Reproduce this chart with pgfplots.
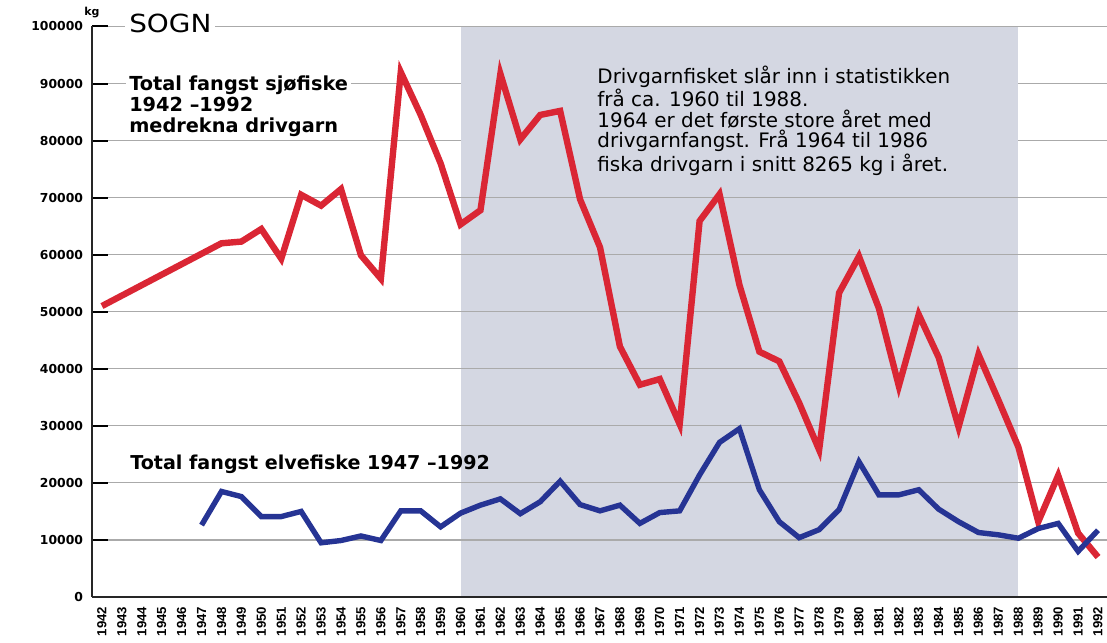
\documentclass[border=0pt]{standalone}
\usepackage{pgfplots}
\pgfplotsset{compat=1.18}
\usepackage{fontspec}
\setmainfont{DejaVu Sans}
\newfontfamily\lib{Liberation Sans}
\definecolor{cred}{RGB}{218,38,52}
\definecolor{cblue}{RGB}{38,52,148}
\definecolor{shade}{RGB}{212,215,226}
\definecolor{gridc}{RGB}{170,170,170}
\begin{document}
\begin{tikzpicture}
\begin{axis}[
  at={(0,0)}, anchor=south west,
  scale only axis, width=507.5bp, height=285.25bp,
  xmin=1941.5, xmax=1992.45, ymin=0, ymax=100000,
  axis x line*=bottom, axis y line*=left,
  set layers, clip=false,
  ytick={0,10000,...,100000},
  xtick={1942,...,1992},
  scaled y ticks=false,
  ymajorgrids,
  grid style={gridc, line width=0.6bp},
  major tick length=8bp,
  tick align=inside,
  y tick style={black, line width=1bp},
  x tick style={draw=none},
  axis line style={black!85, line width=1.2bp},
  /pgf/number format/assume math mode=true,
  /pgf/number format/fixed,
  /pgf/number format/precision=0,
  /pgf/number format/1000 sep={},
  yticklabel style={font=\bfseries\fontsize{6.2}{7}\selectfont, xshift=-1bp},
  xticklabel style={font=\lib\bfseries\fontsize{6.6}{7}\selectfont, rotate=90, anchor=east, xshift=-1.5bp},
]
\addplot[draw=none, fill=shade, on layer=axis background] coordinates {(1960,100000) (1988,100000)} \closedcycle;
\addplot[draw=none, fill=shade, on layer=pre main] coordinates {(1960,76000) (1988,76000) (1988,95000) (1960,95000)} -- cycle;

\addplot[cred, line width=3.2bp] coordinates {
(1942,51000) (1948,62000) (1949,62300) (1950,64500) (1951,59300) (1952,70500)
(1953,68600) (1954,71500) (1955,59900) (1956,55800) (1957,92000) (1958,84500)
(1959,76000) (1960,65300) (1961,67800) (1962,91700) (1963,80200) (1964,84500)
(1965,85200) (1966,69700) (1967,61300) (1968,43900) (1969,37200) (1970,38200)
(1971,30300) (1972,65900) (1973,70600) (1974,54700) (1975,43000) (1976,41300)
(1977,34000) (1978,25800) (1979,53300) (1980,59700) (1981,50600) (1982,37000)
(1983,49500) (1984,42000) (1985,29800) (1986,42500) (1987,34500) (1988,26300)
(1989,13200) (1990,21300) (1991,11200) (1992,7000)};

\addplot[cblue, line width=2.7bp] coordinates {
(1947,12600) (1948,18500) (1949,17600) (1950,14100) (1951,14100) (1952,15000)
(1953,9500) (1954,9900) (1955,10700) (1956,9900) (1957,15100) (1958,15100)
(1959,12300) (1960,14700) (1961,16100) (1962,17200) (1963,14600) (1964,16700)
(1965,20300) (1966,16200) (1967,15100) (1968,16100) (1969,12900) (1970,14800)
(1971,15100) (1972,21400) (1973,27100) (1974,29500) (1975,18800) (1976,13200)
(1977,10400) (1978,11800) (1979,15300) (1980,23700) (1981,17900) (1982,17900)
(1983,18800) (1984,15400) (1985,13200) (1986,11300) (1987,10900) (1988,10300)
(1989,12000) (1990,12900) (1991,8000) (1992,11700)};

\node[anchor=west, fill=white, inner sep=2bp, font=\fontsize{12.5}{14}\selectfont] at (axis cs:1943.15,100500) {\scalebox{1.12}[1]{SOGN}};
\node[anchor=base, inner sep=0pt, font=\bfseries\fontsize{5.5}{6}\selectfont] at (axis cs:1941.5,102000) {kg};
\node[anchor=north west, align=left, fill=white, inner sep=1.5bp, font=\bfseries\fontsize{9.7}{10.5}\selectfont] at (axis cs:1943.2,91900) {Total fangst sjøfiske\\1942 –1992\\medrekna drivgarn};
\node[anchor=base west, inner sep=0pt, font=\bfseries\fontsize{9.6}{10.5}\selectfont] at (axis cs:1943.4,22300) {Total fangst elvefiske 1947 –1992};
\node[anchor=north west, align=left, inner sep=0pt, font=\fontsize{10}{10.25}\selectfont] at (axis cs:1966.85,93200) {Drivgarnfisket slår inn i statistikken\\frå ca. 1960 til 1988.\\1964 er det første store året med\\drivgarnfangst. Frå 1964 til 1986\\fiska drivgarn i snitt 8265 kg i året.};
\end{axis}
\pgfresetboundingbox
\useasboundingbox (-46bp,-23bp) rectangle (507.5bp,298.5bp);
\end{tikzpicture}
\end{document}
